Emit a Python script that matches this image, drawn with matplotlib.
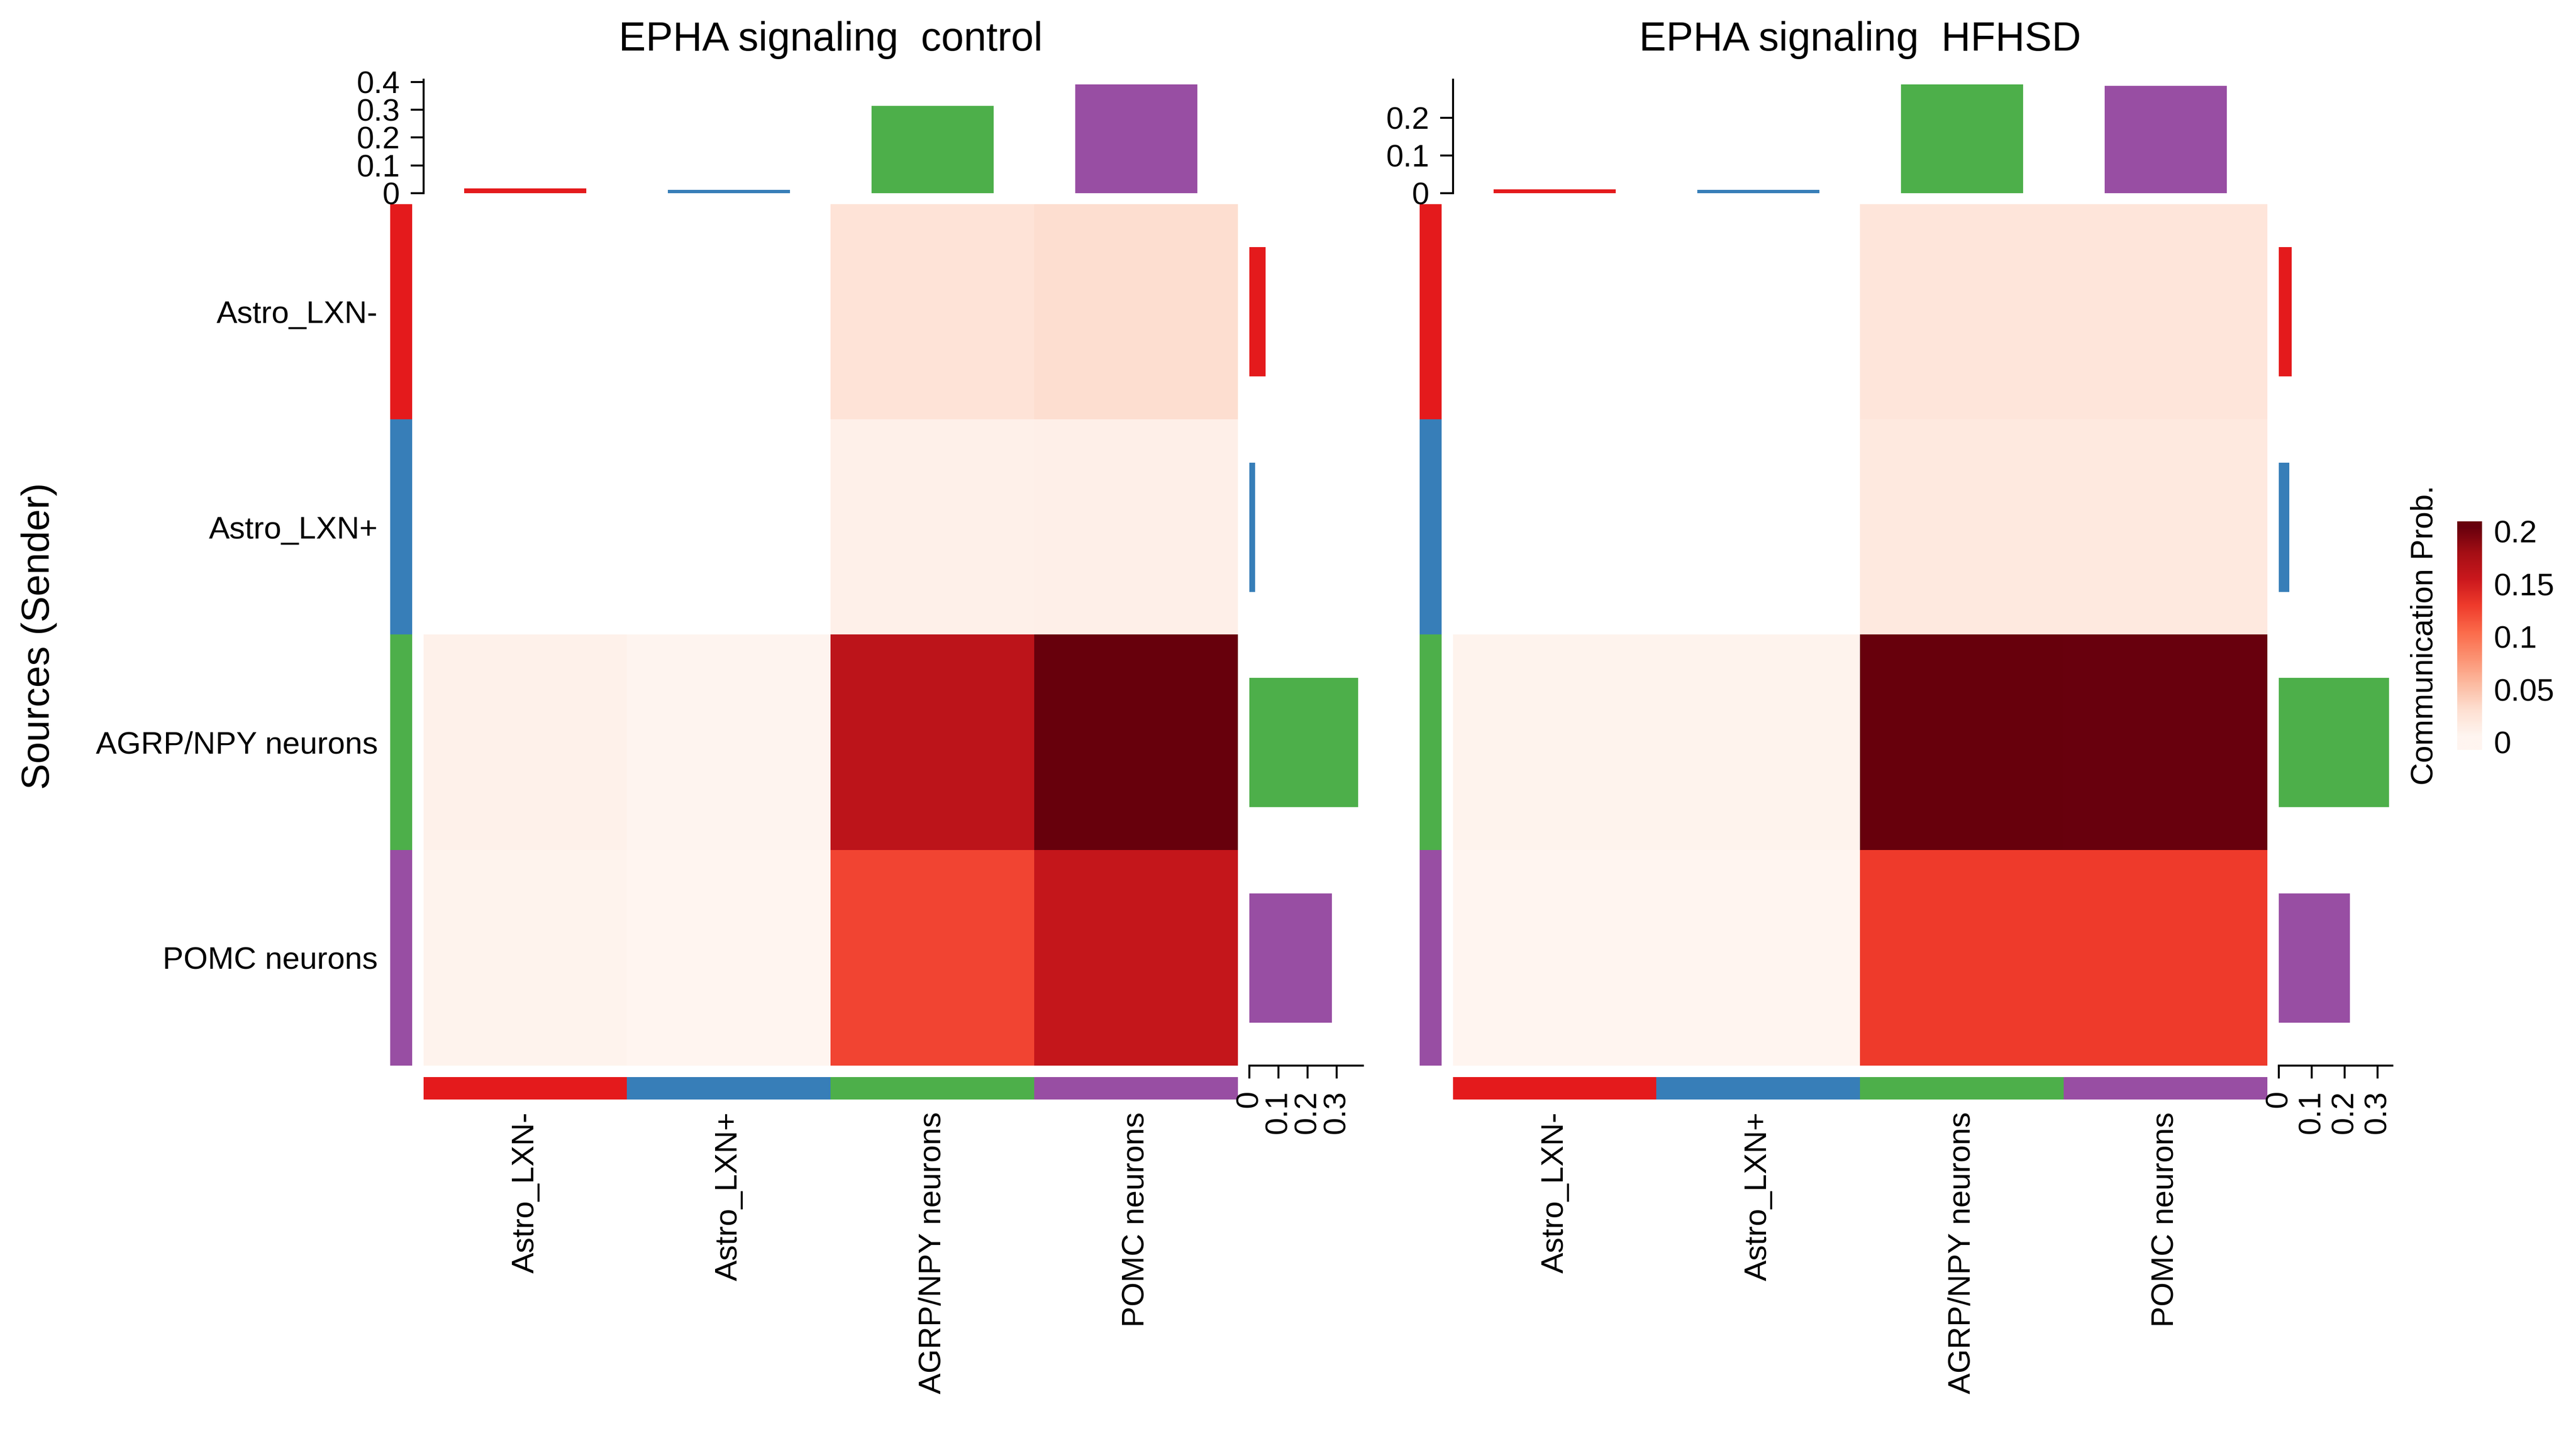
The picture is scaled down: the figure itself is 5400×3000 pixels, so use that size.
import numpy as np
import matplotlib
matplotlib.use("Agg")
import matplotlib.pyplot as plt
from matplotlib.colors import ListedColormap, Normalize

plt.rcParams['font.family'] = ['Liberation Sans', 'DejaVu Sans']

cell_types = ["Astro_LXN-", "Astro_LXN+", "AGRP/NPY neurons", "POMC neurons"]
group_colors = ["#E41A1C", "#377EB8", "#4DAF4A", "#984EA3"]
titles = ["EPHA signaling  control", "EPHA signaling  HFHSD"]

# rows = sources (sender), columns = targets (receiver)
prob_control = [[0, 0, 0.026, 0.031],
                [0, 0, 0.011, 0.012],
                [0.010, 0.006, 0.164, 0.205],
                [0.008, 0.005, 0.125, 0.159]]
prob_hfhsd = [[0, 0, 0.017, 0.017],
              [0, 0, 0.014, 0.014],
              [0.005, 0.005, 0.158, 0.157],
              [0.003, 0.003, 0.100, 0.100]]

# annotation bars: incoming (top) and outgoing (right)
incoming_control = [0.017, 0.012, 0.314, 0.391]
outgoing_control = [0.056, 0.020, 0.374, 0.284]
incoming_hfhsd = [0.010, 0.009, 0.289, 0.286]
outgoing_hfhsd = [0.039, 0.032, 0.335, 0.216]

top_ticks = [[0, 0.1, 0.2, 0.3, 0.4], [0, 0.1, 0.2]]
top_lim = [0.408, 0.302]
right_ticks = [0, 0.1, 0.2, 0.3]
right_lim = [0.39, 0.345]
cbar_ticks = [0, 0.05, 0.1, 0.15, 0.2]

W, H = 5400, 3000
fig = plt.figure(figsize=(18, 10), dpi=300)


def add_ax(x0, y0, x1, y1):
    # pixel box (top-left origin) -> figure axes
    return fig.add_axes([x0 / W, 1 - y1 / H, (x1 - x0) / W, (y1 - y0) / H])


fs = 15.7
heat_top, heat_bot = 428, 2234
heat_w = 1707
panels = [(888, prob_control, incoming_control, outgoing_control),
          (3046, prob_hfhsd, incoming_hfhsd, outgoing_hfhsd)]

cmap = plt.get_cmap("Reds").copy()
cmap.set_bad("white")
group_cmap = ListedColormap(group_colors)
norms = []

for p, (hx, prob, incoming, outgoing) in enumerate(panels):
    mat = np.ma.masked_equal(np.array(prob), 0)
    norm = Normalize(vmin=mat.min(), vmax=mat.max())
    norms.append(norm)

    # heatmap body
    ax = add_ax(hx, heat_top, hx + heat_w, heat_bot)
    ax.imshow(mat, cmap=cmap, norm=norm, aspect="auto", interpolation="nearest")
    ax.axis("off")

    # row colour annotation
    rax = add_ax(hx - 70, heat_top, hx - 24, heat_bot)
    rax.imshow(np.arange(4).reshape(-1, 1), cmap=group_cmap, aspect="auto")
    for s in rax.spines.values():
        s.set_visible(False)
    rax.set_xticks([])
    if p == 0:
        rax.set_yticks(range(4))
        rax.set_yticklabels(cell_types, fontsize=fs)
        rax.tick_params(axis="y", length=0, pad=6.2)
    else:
        rax.set_yticks([])

    # column colour annotation
    cax = add_ax(hx, 2258, hx + heat_w, 2305)
    cax.imshow(np.arange(4).reshape(1, -1), cmap=group_cmap, aspect="auto")
    for s in cax.spines.values():
        s.set_visible(False)
    cax.set_yticks([])
    cax.set_xticks(range(4))
    cax.set_xticklabels(cell_types, rotation=90, fontsize=fs)
    cax.tick_params(axis="x", length=0, pad=6.2)

    # top bars
    tax = add_ax(hx, 167, hx + heat_w, 405)
    tax.bar(range(4), incoming, width=0.6, color=group_colors)
    tax.set_xlim(-0.5, 3.5)
    tax.set_ylim(0, top_lim[p])
    for side in ["top", "right", "bottom"]:
        tax.spines[side].set_visible(False)
    tax.spines["left"].set_linewidth(1.0)
    tax.set_xticks([])
    tax.set_yticks(top_ticks[p])
    tax.set_yticklabels([f"{v:g}" for v in top_ticks[p]], fontsize=fs)
    tax.tick_params(axis="y", length=6.5, width=1.0, pad=5.5)

    # right bars
    bax = add_ax(hx + 1731, heat_top, hx + 1731 + 238, heat_bot)
    bax.barh(range(4), outgoing, height=0.6, color=group_colors)
    bax.set_ylim(3.5, -0.5)
    bax.set_xlim(0, right_lim[p])
    for side in ["top", "right", "left"]:
        bax.spines[side].set_visible(False)
    bax.spines["bottom"].set_linewidth(1.0)
    bax.set_yticks([])
    bax.set_xticks(right_ticks)
    bax.set_xticklabels([f"{v:g}" for v in right_ticks], rotation=90, fontsize=fs)
    bax.tick_params(axis="x", length=6.5, width=1.0, pad=6)

    fig.text((hx + heat_w / 2) / W, 1 - 106 / H, titles[p], ha="center",
             va="baseline", fontsize=20.4)

fig.text(82 / W, 1 - 1333 / H, "Sources (Sender)", rotation=90, ha="center",
         va="center", fontsize=19.7)

# colour legend
lo, hi = -0.0072, 0.2095
lax = add_ax(5151, 1093, 5203, 1572)
grad = np.linspace(hi, lo, 256).reshape(-1, 1)
lax.imshow(grad, cmap=plt.get_cmap("Reds"), norm=norms[0], aspect="auto",
           extent=[0, 1, lo, hi])
lax.set_ylim(lo, hi)
for s in lax.spines.values():
    s.set_visible(False)
lax.set_xticks([])
lax.yaxis.tick_right()
lax.set_yticks(cbar_ticks)
lax.set_yticklabels([f"{v:g}" for v in cbar_ticks], fontsize=fs)
lax.tick_params(axis="y", length=0, pad=5.8)
fig.text(5083 / W, 1 - 1332 / H, "Communication Prob.", rotation=90,
         ha="center", va="center", fontsize=fs)

fig.savefig("out.png", dpi=300, facecolor="white")
